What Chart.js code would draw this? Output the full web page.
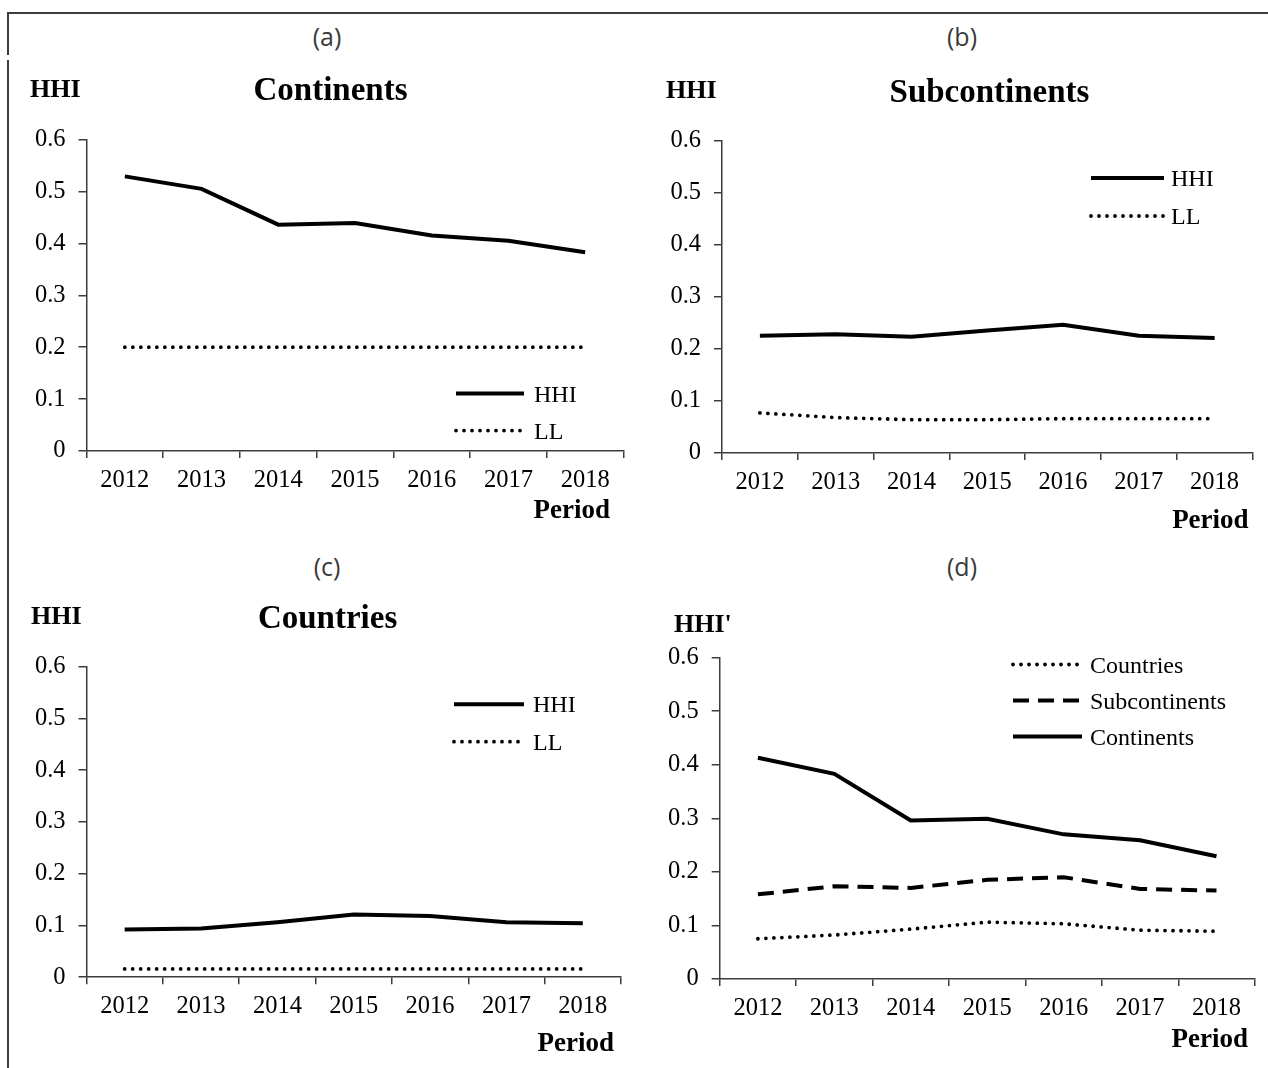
<!DOCTYPE html>
<html>
<head>
<meta charset="utf-8">
<script src="https://cdn.jsdelivr.net/npm/chart.js@4.4.1/dist/chart.umd.min.js"></script>
<style>
  html, body { margin: 0; padding: 0; background: #fff; }
  #page { position: relative; width: 1268px; height: 1068px; overflow: hidden; background: #fff; }
  .frame { position: absolute; left: 7px; top: 12px; width: 1280px; height: 1080px;
           border-top: 2px solid #3c3c3c; border-left: 2px solid #3c3c3c; }
  .gap { position: absolute; left: 6px; top: 55px; width: 5px; height: 5px; background: #fff; }
  .box { position: absolute; }
  .txt { position: absolute; white-space: nowrap; color: #000; }
  .tag { font-family: 'Open Sans', sans-serif; font-size: 25px; color: #3a3a3a; }
  .serif { font-family: 'Liberation Serif', 'Times New Roman', serif; }
</style>
</head>
<body>
<div id="page">
  <div class="frame"></div>
  <div class="gap"></div>
</div>
<script>
/* ─── DATA ─── */
const years = ['2012', '2013', '2014', '2015', '2016', '2017', '2018'];
const yTickValues = [0, 0.1, 0.2, 0.3, 0.4, 0.5, 0.6];

// (a) continents
const contHHI = [0.529, 0.505, 0.436, 0.439, 0.415, 0.405, 0.383];
const contLL  = [0.2, 0.2, 0.2, 0.2, 0.2, 0.2, 0.2];
// (b) subcontinents
const subHHI = [0.225, 0.228, 0.223, 0.235, 0.246, 0.225, 0.221];
const subLL  = [0.077, 0.068, 0.064, 0.064, 0.066, 0.066, 0.066];
// (c) countries
const ctryHHI = [0.092, 0.094, 0.106, 0.121, 0.118, 0.106, 0.104];
const ctryLL  = [0.016, 0.016, 0.016, 0.016, 0.016, 0.016, 0.016];
// (d) normalised HHI'
const normCountries  = [0.075, 0.082, 0.093, 0.106, 0.103, 0.091, 0.089];
const normSubcont    = [0.158, 0.173, 0.170, 0.185, 0.190, 0.168, 0.165];
const normContinents = [0.413, 0.383, 0.296, 0.299, 0.270, 0.259, 0.229];

/* ─── STYLE ─── */
Chart.defaults.font.family = "'Liberation Serif', 'Times New Roman', serif";
Chart.defaults.color = '#000';
const AXIS = '#3c3c3c';
const SERIF = "'Liberation Serif', 'Times New Roman', serif";

function line(label, data, kind) {
  const base = { label, data, borderColor: '#000', borderWidth: 4, pointRadius: 0,
                 tension: 0, fill: false, borderJoinStyle: 'miter', borderCapStyle: 'butt', borderDash: [] };
  if (kind === 'dot') Object.assign(base, { borderWidth: 3.8, borderDash: [0, 8], borderCapStyle: 'round' });
  if (kind === 'dash') Object.assign(base, { borderDash: [16, 9] });
  return base;
}

/* legend drawn inside the plot, line sample + label */
const lineLegend = {
  id: 'lineLegend',
  afterDraw(chart, args, o) {
    if (!o || o.x1 == null) return;
    const ctx = chart.ctx;
    const ds = chart.data.datasets;
    ctx.save();
    o.order.forEach((idx, row) => {
      const d = ds[idx];
      const y = o.y + row * o.rowGap - o.oy;
      ctx.beginPath();
      ctx.lineWidth = d.borderWidth;
      ctx.strokeStyle = d.borderColor;
      ctx.setLineDash(d.borderDash || []);
      ctx.lineCap = d.borderCapStyle || 'butt';
      ctx.moveTo(o.x1 - o.ox, y);
      ctx.lineTo(o.x2 - o.ox, y);
      ctx.stroke();
      ctx.setLineDash([]);
      ctx.fillStyle = '#000';
      ctx.font = '24px ' + SERIF;
      ctx.textBaseline = 'alphabetic';
      ctx.fillText(d.label, o.x2 - o.ox + o.gap, y + 8);
    });
    ctx.restore();
  }
};

const panels = [
  { box: { x: 0, y: 100, w: 634, h: 440 }, area: { l: 86.5, t: 139.5, r: 623.5, b: 451 },
    datasets: [line('HHI', contHHI), line('LL', contLL, 'dot')],
    legend: { x1: 456, x2: 524, y: 393.6, rowGap: 37, gap: 10, order: [0, 1] } },
  { box: { x: 634, y: 100, w: 634, h: 440 }, area: { l: 722, t: 140.5, r: 1252.5, b: 453 },
    datasets: [line('HHI', subHHI), line('LL', subLL, 'dot')],
    legend: { x1: 1091, x2: 1164, y: 178, rowGap: 38, gap: 7, order: [0, 1] } },
  { box: { x: 0, y: 620, w: 634, h: 440 }, area: { l: 86.5, t: 666.6, r: 621, b: 977.2 },
    datasets: [line('HHI', ctryHHI), line('LL', ctryLL, 'dot')],
    legend: { x1: 454, x2: 524, y: 704.3, rowGap: 37.4, gap: 9, order: [0, 1] } },
  { box: { x: 634, y: 620, w: 634, h: 440 }, area: { l: 719.7, t: 657.7, r: 1254.7, b: 978.9 },
    datasets: [line('Countries', normCountries, 'dot'), line('Subcontinents', normSubcont, 'dash'),
               line('Continents', normContinents)],
    legend: { x1: 1013, x2: 1082, y: 664.5, rowGap: 36, gap: 8, order: [0, 1, 2] } }
];

function makePanel(p) {
  const wrap = document.createElement('div');
  wrap.className = 'box';
  Object.assign(wrap.style, { left: p.box.x + 'px', top: p.box.y + 'px',
                              width: p.box.w + 'px', height: p.box.h + 'px' });
  const cv = document.createElement('canvas');
  cv.width = p.box.w;
  cv.height = p.box.h;
  wrap.appendChild(cv);
  document.getElementById('page').appendChild(wrap);

  const yW = p.area.l - p.box.x;
  const xH = p.box.y + p.box.h - p.area.b;

  return new Chart(cv, {
    type: 'line',
    data: { labels: years, datasets: p.datasets },
    options: {
      responsive: false,
      animation: false,
      layout: { padding: { left: 0, bottom: 0, top: p.area.t - p.box.y, right: p.box.x + p.box.w - p.area.r } },
      plugins: {
        legend: { display: false },
        tooltip: { enabled: false },
        lineLegend: Object.assign({ ox: p.box.x, oy: p.box.y }, p.legend)
      },
      scales: {
        x: {
          offset: true,
          grid: { offset: true, drawOnChartArea: false, drawTicks: true, tickLength: 7, color: AXIS, lineWidth: 1.5 },
          border: { color: AXIS, width: 1.5 },
          ticks: { font: { size: 24.5 }, color: '#000', padding: 8, maxRotation: 0, autoSkip: false },
          afterFit(s) { s.height = xH; }
        },
        y: {
          min: 0, max: 0.6,
          grid: { drawOnChartArea: false, drawTicks: true, tickLength: 8, color: AXIS, lineWidth: 1.5 },
          border: { color: AXIS, width: 1.5 },
          afterBuildTicks(s) { s.ticks = yTickValues.map(v => ({ value: v })); },
          ticks: { font: { size: 24.5 }, color: '#000', padding: 13, callback: v => String(+(+v).toFixed(1)) },
          afterFit(s) { s.width = yW; }
        }
      }
    },
    plugins: [lineLegend]
  });
}

panels.forEach(makePanel);

/* ─── TEXT ─── */
function addText(txt, cls, style) {
  const el = document.createElement('div');
  el.className = 'txt ' + cls;
  el.textContent = txt;
  Object.assign(el.style, style);
  document.getElementById('page').appendChild(el);
}
function centerAt(cx, cy, fs) {
  return { left: cx + 'px', top: (cy - fs / 2) + 'px', lineHeight: fs + 'px', transform: 'translateX(-50%)' };
}

[['(a)', 327, 39.5], ['(b)', 962, 39.5], ['(c)', 327, 570], ['(d)', 962, 570]].forEach(([t, x, y]) =>
  addText(t, 'tag', { left: x + 'px', top: (y - 16) + 'px', lineHeight: '25px', transform: 'translateX(-50%)' }));

[['HHI', 30, 88.7], ['HHI', 666, 90], ['HHI', 31, 616], ["HHI'", 674, 623.5]].forEach(([t, x, y]) =>
  addText(t, 'serif', { left: x + 'px', top: (y - 13) + 'px', lineHeight: '26px', fontSize: '26px', fontWeight: 'bold' }));

[['Continents', 330.5, 89], ['Subcontinents', 989.5, 91], ['Countries', 327.6, 617.5]].forEach(([t, x, y]) =>
  addText(t, 'serif', Object.assign(centerAt(x, y, 33), { fontSize: '33px', fontWeight: 'bold' })));

[[610, 509], [1248.6, 519], [614, 1042], [1248, 1038]].forEach(([rx, y]) =>
  addText('Period', 'serif', { right: (1268 - rx) + 'px', top: (y - 13.5) + 'px', lineHeight: '27px',
                               fontSize: '27px', fontWeight: 'bold' }));
</script>
</body>
</html>
